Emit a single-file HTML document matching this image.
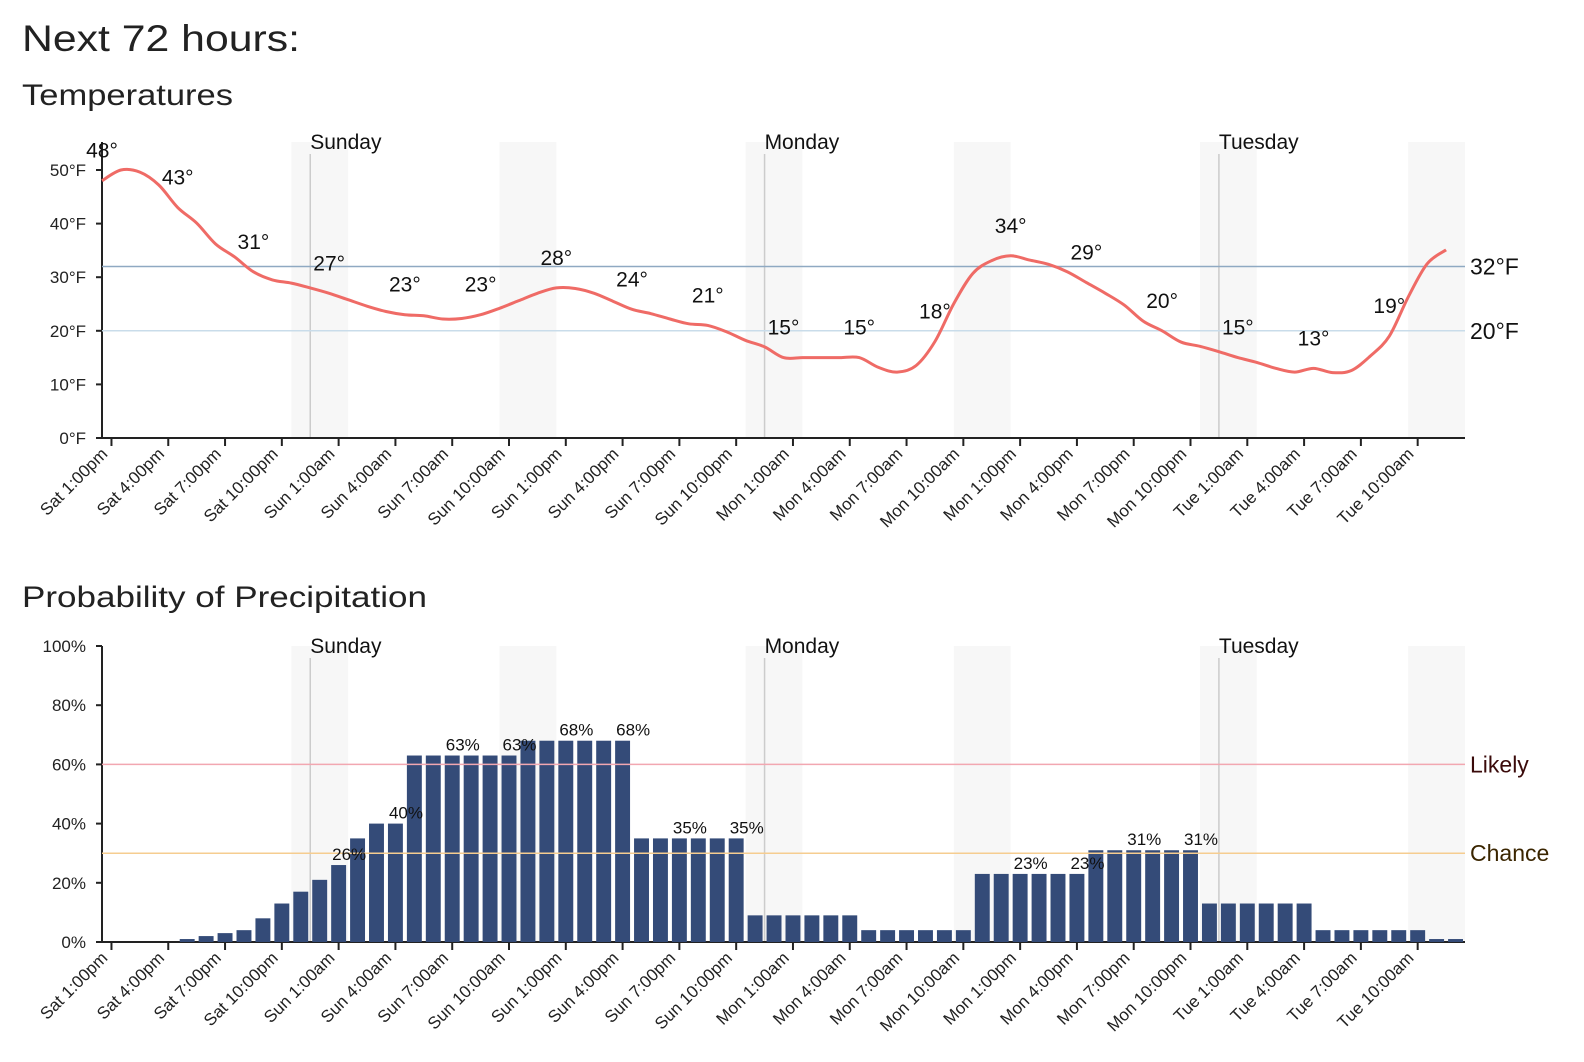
<!DOCTYPE html>
<html><head><meta charset="utf-8"><style>
body{margin:0;background:#fff;}
svg{display:block;font-family:"Liberation Sans",sans-serif;}
</style></head><body>
<svg id="c" width="1584" height="1062" viewBox="0 0 1584 1062">
<text x="22" y="51" font-size="37" textLength="278" lengthAdjust="spacingAndGlyphs" fill="#222">Next 72 hours:</text>
<text x="22" y="105" font-size="30" textLength="211" lengthAdjust="spacingAndGlyphs" fill="#222">Temperatures</text>
<text x="22" y="607" font-size="30" textLength="405" lengthAdjust="spacingAndGlyphs" fill="#222">Probability of Precipitation</text>
<g id="g1"></g>
<g id="g2"></g>
</svg>
<script>
const temps = [48,50,49.6,47.2,43,40.1,36.2,33.8,31,29.5,28.9,28,27,25.8,24.6,23.6,23,22.8,22.2,22.3,23,24.2,25.6,27,28,27.9,27,25.5,24,23.2,22.2,21.3,21,19.8,18.2,17,15,15,15,15,15,13.2,12.3,13.5,18,25.1,30.7,33.1,34,33.2,32.4,31,29,27,24.8,21.8,20,17.9,17.1,16.1,15,14.1,13,12.3,13,12.2,12.6,15.3,19,26.3,32.5,35.1];
const precip = [0,0,0,0,1,2,3,4,8,13,17,21,26,35,40,40,63,63,63,63,63,63,68,68,68,68,68,68,35,35,35,35,35,35,9,9,9,9,9,9,4,4,4,4,4,4,23,23,23,23,23,23,31,31,31,31,31,31,13,13,13,13,13,13,4,4,4,4,4,4,1,1];
const tickLabels = ["Sat 1:00pm","Sat 4:00pm","Sat 7:00pm","Sat 10:00pm","Sun 1:00am","Sun 4:00am","Sun 7:00am","Sun 10:00am","Sun 1:00pm","Sun 4:00pm","Sun 7:00pm","Sun 10:00pm","Mon 1:00am","Mon 4:00am","Mon 7:00am","Mon 10:00am","Mon 1:00pm","Mon 4:00pm","Mon 7:00pm","Mon 10:00pm","Tue 1:00am","Tue 4:00am","Tue 7:00am","Tue 10:00am"];
const tempTicks = [0,10,20,30,40,50];
const precipTicks = [0,20,40,60,80,100];
const dayNames = ["Sunday","Monday","Tuesday"];
const dayHours = [11,35,59];
const shadeHours = [10,21,34,45,58,69];

const NS="http://www.w3.org/2000/svg";
const X0=102,X1=1465,N=72,BW=(X1-X0)/N;
function x(h){return X0+h*BW;}
function el(p,t,a){const e=document.createElementNS(NS,t);for(const k in a)e.setAttribute(k,a[k]);p.appendChild(e);return e;}

function frame(g,top,bot,yfun,ticks,fmt){
  shadeHours.forEach(h=>{
    const r=el(g,'rect',{x:x(h),y:top,width:BW*3,height:bot-top,fill:'#f7f7f7'});
    
    
  });
  dayHours.forEach((h,i)=>{
    const l=el(g,'line',{x1:x(h),x2:x(h),y1:top+12,y2:bot,stroke:'#cccccc','stroke-width':1.5});
    
    
    const t=el(g,'text',{x:x(h),y:top+7,'font-size':21,fill:'#111'});t.textContent=dayNames[i];
    
    
  });
  ticks.forEach(v=>{
    const y=yfun(v);
    el(g,'line',{x1:X0-6,x2:X0,y1:y,y2:y,stroke:'#222','stroke-width':2});
    const t=el(g,'text',{x:X0-16,y:y+6,'font-size':17,'text-anchor':'end',fill:'#222'});t.textContent=fmt(v);
    
    
  });
  tickLabels.forEach((s,i)=>{
    const cx=x(i*3)+BW/2;
    el(g,'line',{x1:cx,x2:cx,y1:bot,y2:bot+8,stroke:'#222','stroke-width':2});
    const t=el(g,'text',{x:0,y:0,'font-size':17,'text-anchor':'end',fill:'#222',transform:`translate(${cx-3},${bot+17}) rotate(-45)`});t.textContent=s;
    
    
  });
  const ax=el(g,'path',{d:`M${X0},${top}V${bot}H${X1}`,fill:'none',stroke:'#222','stroke-width':2});
  
  
}

// Temperature chart
const g1=document.getElementById('g1');
const T0=438,TT=142;function ty(v){return T0-v*5.36;}
frame(g1,TT,T0,ty,tempTicks,v=>v+'°F');
[[32,'#8fa9c2','32°F'],[20,'#c9dcea','20°F']].forEach(([v,c,s])=>{
  const l=el(g1,'line',{x1:X0,x2:X1,y1:ty(v),y2:ty(v),stroke:c,'stroke-width':1.5});
  
  
  const t=el(g1,'text',{x:1470,y:ty(v)+8,'font-size':23,fill:'#111'});t.textContent=s;
  
  
});
const pts=temps.map((v,i)=>[x(i),ty(v)]);
let d=`M${pts[0][0]},${pts[0][1]}`;
for(let i=0;i<pts.length-1;i++){
  const p0=pts[Math.max(0,i-1)],p1=pts[i],p2=pts[i+1],p3=pts[Math.min(pts.length-1,i+2)];
  const c1=[p1[0]+(p2[0]-p0[0])/6,p1[1]+(p2[1]-p0[1])/6],c2=[p2[0]-(p3[0]-p1[0])/6,p2[1]-(p3[1]-p1[1])/6];
  d+=`C${c1[0]},${c1[1]} ${c2[0]},${c2[1]} ${p2[0]},${p2[1]}`;
}
const line=el(g1,'path',{d:d,fill:'none',stroke:'#ef6b66','stroke-width':3});


temps.forEach((v,i)=>{
  if(i%4!==0)return;
  const t=el(g1,'text',{x:x(i),y:ty(v)-23,'font-size':21,'text-anchor':'middle',fill:'#111'});t.textContent=Math.round(v)+'°';
  
  
});

// Precipitation chart
const g2=document.getElementById('g2');
const P0=942,PT=646;function py(v){return P0-v*(P0-PT)/100;}
frame(g2,PT,P0,py,precipTicks,v=>v+'%');
precip.forEach((v,i)=>{
  const r=el(g2,'rect',{x:x(i)+2,y:py(v),width:BW-4,height:P0-py(v),fill:'#344b78'});
  
  
});
[[60,'#f2a7b1','Likely','#3a0a0a'],[30,'#f6cd90','Chance','#3a2500']].forEach(([v,c,s,tc])=>{
  const l=el(g2,'line',{x1:X0,x2:X1,y1:py(v),y2:py(v),stroke:c,'stroke-width':1.5});
  
  
  const t=el(g2,'text',{x:1470,y:py(v)+8,'font-size':23,fill:tc});t.textContent=s;
  
  
});
precip.forEach((v,i)=>{
  if(i%3!==0||v<20)return;
  const t=el(g2,'text',{x:x(i)+20,y:py(v)-5,'font-size':17,'text-anchor':'middle',fill:'#111'});t.textContent=v+'%';
  
  
});
</script>
</body></html>
